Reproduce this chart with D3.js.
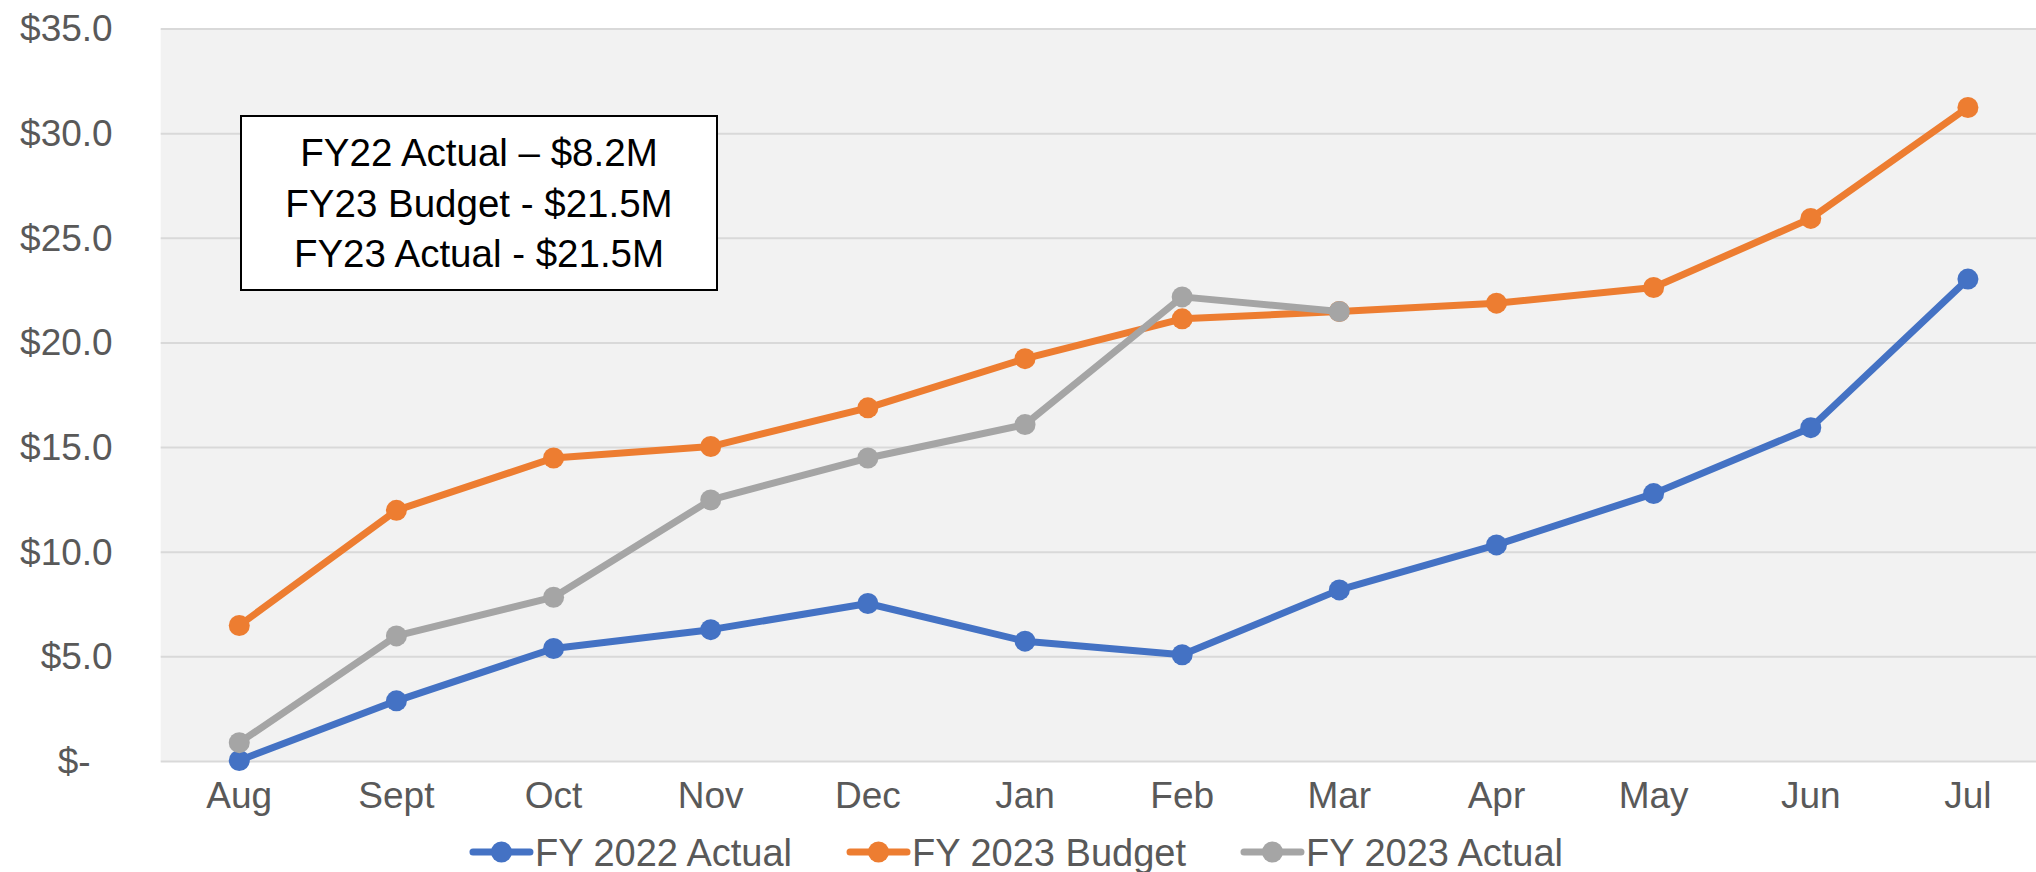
<!DOCTYPE html>
<html>
<head>
<meta charset="utf-8">
<script src="https://cdn.jsdelivr.net/npm/d3@7"></script>
<style>
  html, body { margin: 0; padding: 0; background: #ffffff; }
  svg { display: block; }
  text { font-family: "Liberation Sans", Arial, sans-serif; }
</style>
</head>
<body>
<svg id="chart" width="2036" height="872"></svg>
<script>
// Fiscal-year months (Aug → Jul)
const months = ["Aug", "Sept", "Oct", "Nov", "Dec", "Jan", "Feb", "Mar", "Apr", "May", "Jun", "Jul"];

// Cumulative amounts, $M
const fy22Actual = [0.05, 2.9, 5.4, 6.3, 7.55, 5.75, 5.1, 8.2, 10.35, 12.8, 15.95, 23.05];
const fy23Budget = [6.5, 12.0, 14.5, 15.05, 16.9, 19.25, 21.15, 21.5, 21.9, 22.65, 25.95, 31.25];
const fy23Actual = [0.9, 6.0, 7.85, 12.5, 14.5, 16.1, 22.2, 21.5];

const yTicks = [0, 5, 10, 15, 20, 25, 30, 35];

const seriesNames = ["FY 2022 Actual", "FY 2023 Budget", "FY 2023 Actual"];
const seriesColors = ["#4472C4", "#ED7D31", "#A5A5A5"];

const noteLines = ["FY22 Actual \u2013 $8.2M", "FY23 Budget - $21.5M", "FY23 Actual - $21.5M"];

const seriesData = [fy22Actual, fy23Budget, fy23Actual];

// ---- layout ----
const W = 2036, H = 872;
const plotLeft = 160.7, plotTop = 29, plotBottom = 761.5;
const band = 157.15;
const plotRight = plotLeft + band * months.length;
const textColor = "#595959";
const fontSize = 37;
const legendFontSize = 38;
const strokeW = 7;
const markerR = 10.5;

const svg = d3.select("#chart");

const x = d3.scaleBand().domain(months).range([plotLeft, plotRight]).padding(0);
const cx = m => x(m) + x.bandwidth() / 2;
const y = d3.scaleLinear().domain([0, 35]).range([plotBottom, plotTop]);

// plot background
svg.append("rect")
  .attr("x", plotLeft).attr("y", y(35))
  .attr("width", plotRight - plotLeft).attr("height", y(0) - y(35))
  .attr("fill", "#F2F2F2");

// horizontal gridlines
svg.append("g").selectAll("line").data(yTicks).join("line")
  .attr("x1", plotLeft).attr("x2", plotRight)
  .attr("y1", d => y(d)).attr("y2", d => y(d))
  .attr("stroke", "#D9D9D9").attr("stroke-width", 2);

// y axis labels (accounting style: zero shown as "$-")
const fmtMoney = d => d === 0 ? "$-" : "$" + d3.format(".1f")(d);
const yAxis = svg.append("g")
  .attr("transform", `translate(${plotLeft},0)`)
  .call(d3.axisLeft(y).tickValues(yTicks).tickFormat(fmtMoney).tickSize(0).tickPadding(48));
yAxis.select(".domain").remove();
yAxis.selectAll("text")
  .attr("fill", textColor)
  .style("font-size", fontSize + "px")
  .style("font-family", '"Liberation Sans", Arial, sans-serif')
  .attr("dx", d => d === 0 ? -22 : 0);

// x axis labels
const xAxis = svg.append("g")
  .attr("transform", `translate(0,${plotBottom})`)
  .call(d3.axisBottom(x).tickSize(0).tickPadding(20));
xAxis.select(".domain").remove();
xAxis.selectAll("text")
  .attr("fill", textColor)
  .style("font-size", fontSize + "px")
  .style("font-family", '"Liberation Sans", Arial, sans-serif');

// series lines and markers
const line = d3.line().x((d, i) => cx(months[i])).y(d => y(d));
seriesData.forEach((vals, s) => {
  const g = svg.append("g");
  g.append("path")
    .datum(vals)
    .attr("d", line)
    .attr("fill", "none")
    .attr("stroke", seriesColors[s])
    .attr("stroke-width", strokeW)
    .attr("stroke-linejoin", "round")
    .attr("stroke-linecap", "round");
  g.selectAll("circle").data(vals).join("circle")
    .attr("cx", (d, i) => cx(months[i]))
    .attr("cy", d => y(d))
    .attr("r", markerR)
    .attr("fill", seriesColors[s]);
});

// annotation box
const note = svg.append("g");
note.append("rect")
  .attr("x", 241).attr("y", 116)
  .attr("width", 476).attr("height", 174)
  .attr("fill", "#ffffff").attr("stroke", "#000000").attr("stroke-width", 2);
note.selectAll("text").data(noteLines).join("text")
  .attr("x", 479)
  .attr("y", (d, i) => 166 + i * 50.5)
  .attr("text-anchor", "middle")
  .attr("fill", "#000000")
  .style("font-size", "38.5px")
  .text(d => d);

// legend, centred under the chart
const legend = svg.append("g");
const items = legend.selectAll("g").data(seriesNames).join("g");
const swatchW = 57, swatchGap = 5, itemGap = 58;
items.append("line")
  .attr("x1", 0).attr("x2", swatchW).attr("y1", 0).attr("y2", 0)
  .attr("stroke", (d, i) => seriesColors[i]).attr("stroke-width", strokeW)
  .attr("stroke-linecap", "round");
items.append("circle")
  .attr("cx", swatchW / 2).attr("cy", 0).attr("r", markerR)
  .attr("fill", (d, i) => seriesColors[i]);
items.append("text")
  .attr("x", swatchW + swatchGap)
  .attr("y", 13.5)
  .attr("fill", textColor)
  .style("font-size", legendFontSize + "px")
  .text(d => d);
let offset = 0;
const widths = [];
items.each(function () {
  const tw = d3.select(this).select("text").node().getComputedTextLength();
  widths.push(swatchW + swatchGap + tw);
});
const total = d3.sum(widths) + itemGap * (widths.length - 1);
const start = (W - total) / 2;
items.attr("transform", (d, i) => {
  const t = `translate(${start + offset},852)`;
  offset += widths[i] + itemGap;
  return t;
});
</script>
</body>
</html>
